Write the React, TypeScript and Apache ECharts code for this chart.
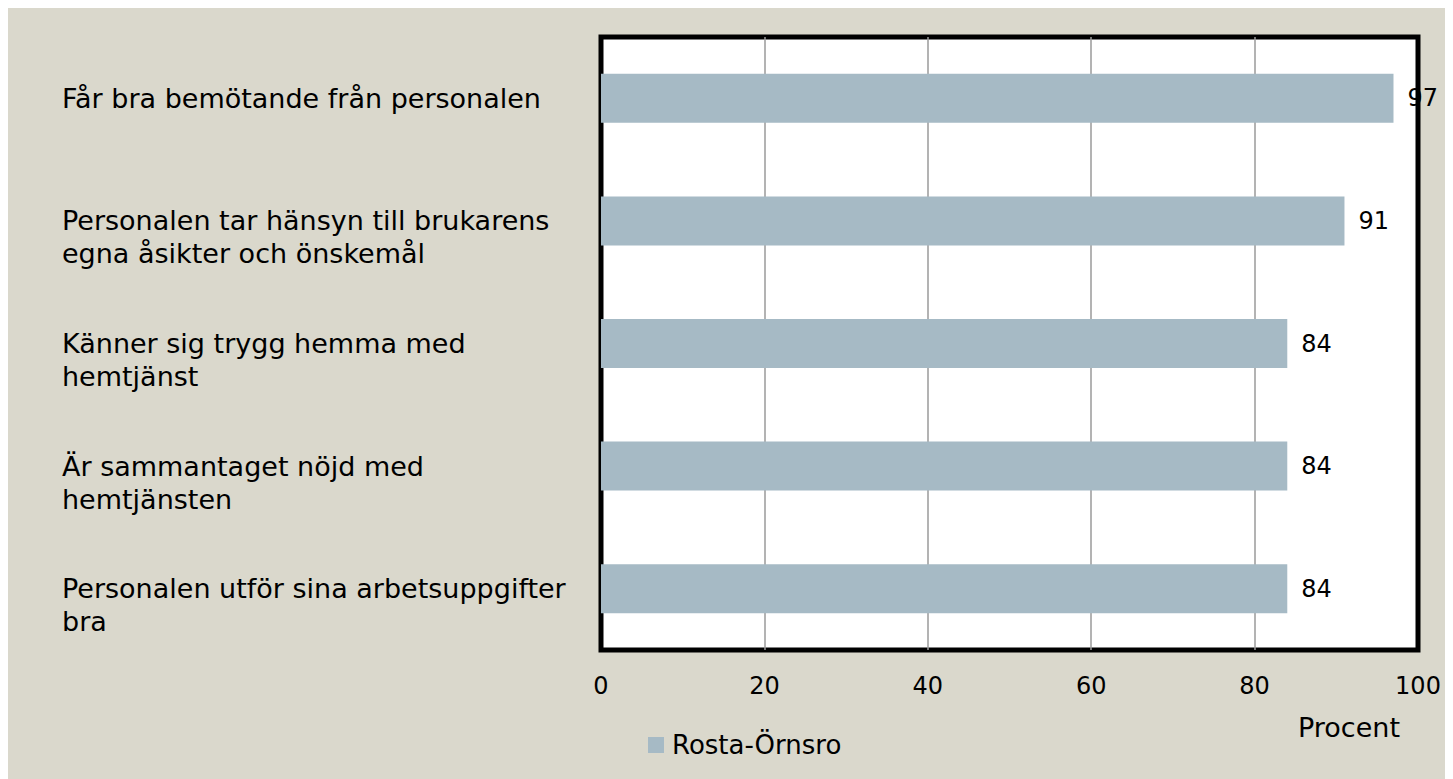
import React, { useEffect, useRef } from "react";
import * as echarts from "echarts";

const categories = [
  "Får bra bemötande från personalen",
  "Personalen tar hänsyn till brukarens\negna åsikter och önskemål",
  "Känner sig trygg hemma med\nhemtjänst",
  "Är sammantaget nöjd med\nhemtjänsten",
  "Personalen utför sina arbetsuppgifter\nbra",
];
const seriesName = "Rosta-Örnsro";
const values = [97, 91, 84, 84, 84];
const xTicks = [0, 20, 40, 60, 80, 100];
const axisTitle = "Procent";

const FONT = "'DejaVu Sans', sans-serif";

export default function App() {
  const ref = useRef<HTMLDivElement>(null);
  useEffect(() => {
    document.body.style.overflow = "hidden";
    const chart = echarts.init(ref.current!, null, { renderer: "svg" });
    chart.setOption({
      animation: false,
      backgroundColor: "#dad8cc",
      textStyle: { fontFamily: FONT },
      grid: {
        left: 593,
        top: 29,
        width: 817,
        height: 613,
        show: true,
        backgroundColor: "#ffffff",
        borderColor: "#000000",
        borderWidth: 5,
        containLabel: false,
      },
      xAxis: {
        type: "value",
        min: xTicks[0],
        max: xTicks[xTicks.length - 1],
        interval: 20,
        axisLine: { show: false },
        axisTick: { show: false },
        splitLine: {
          show: true,
          showMinLine: false,
          showMaxLine: false,
          lineStyle: { color: "#9a9a9a", width: 1.5 },
        },
        axisLabel: {
          margin: 24,
          color: "#000",
          fontSize: 24,
          fontFamily: FONT,
        },
      },
      yAxis: {
        type: "category",
        data: categories,
        inverse: true,
        axisLine: { show: false },
        axisTick: { show: false },
        splitLine: { show: false },
        axisLabel: {
          align: "left",
          margin: 539,
          color: "#000",
          fontSize: 27,
          lineHeight: 33,
          fontFamily: FONT,
          formatter: (v: string) => (v.includes("\n") ? "\n" + v : v),
        },
      },
      legend: {
        left: 635,
        top: 719,
        itemWidth: 16,
        itemHeight: 16,
        itemGap: 10,
        icon: "rect",
        textStyle: { color: "#000", fontSize: 26, fontFamily: FONT, padding: [0, 0, 0, 3] },
        data: [seriesName],
      },
      graphic: [
        {
          type: "text",
          left: 1290,
          top: 706,
          style: { text: axisTitle, fill: "#000", fontSize: 27, fontFamily: FONT },
        },
      ],
      series: [
        {
          name: seriesName,
          type: "bar",
          data: values,
          barWidth: 49,
          itemStyle: { color: "#a6bac5" },
          label: {
            show: true,
            position: "right",
            distance: 14,
            color: "#000",
            fontSize: 24,
            fontFamily: FONT,
          },
        },
      ],
    });
    return () => chart.dispose();
  }, []);
  return <div ref={ref} style={{ width: 1445, height: 772 }} />;
}
